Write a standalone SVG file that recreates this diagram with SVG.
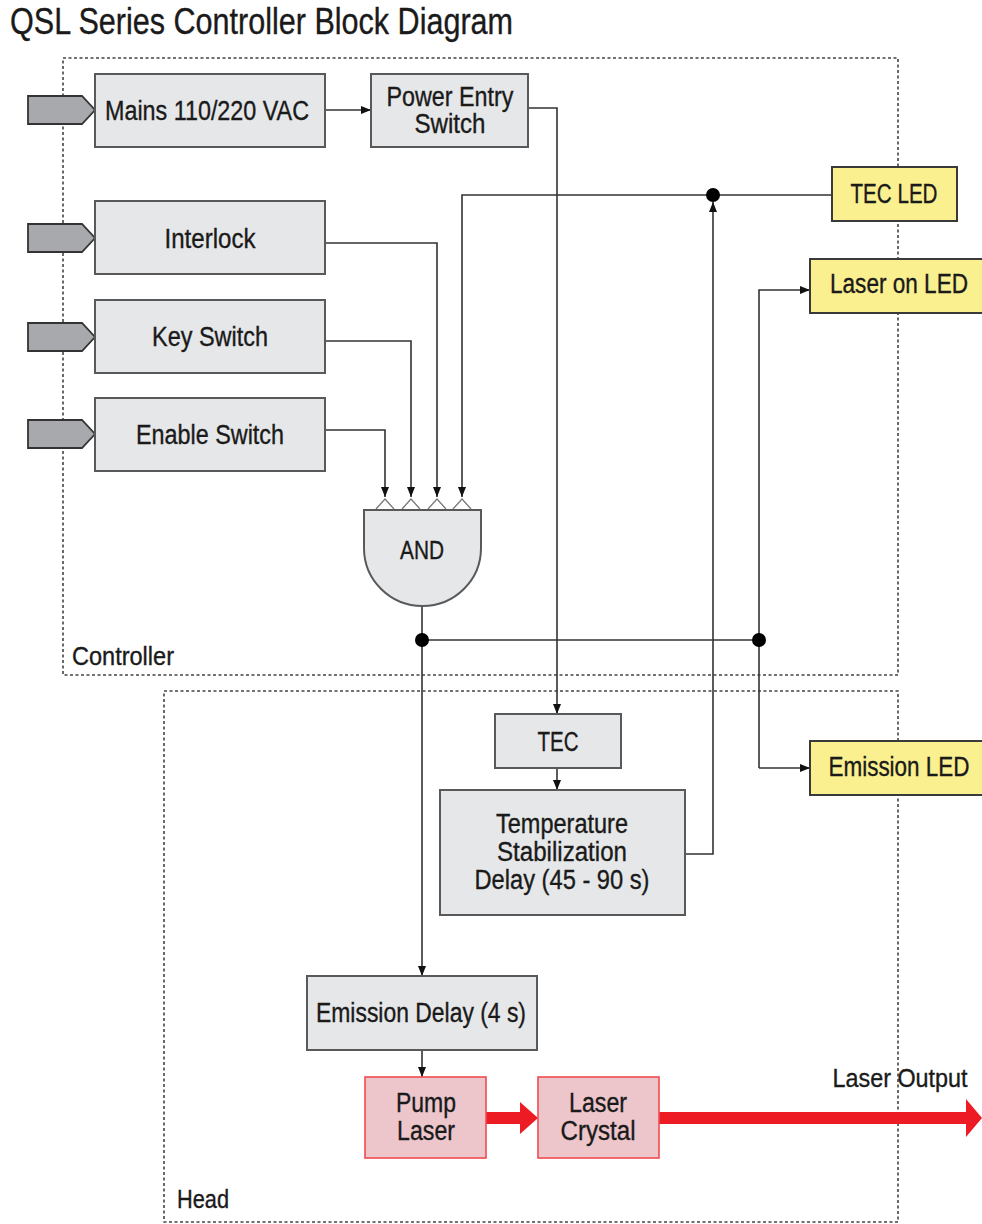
<svg xmlns="http://www.w3.org/2000/svg" width="982" height="1224" viewBox="0 0 982 1224">
<style>
text{font-family:"Liberation Sans",Arial,sans-serif;fill:#1a1a1a;stroke:#1a1a1a;stroke-width:0.35;}
.lbl{font-size:27px;text-anchor:middle;}
.box{fill:#e6e7e8;stroke:#58595b;stroke-width:2;}
.led{fill:#fbf08f;stroke:#3a3a3a;stroke-width:2;}
.red{fill:#ecc6cb;stroke:#ef4b4f;stroke-width:1.6;}
.inp{fill:#a7a9ac;stroke:#333;stroke-width:1.8;}
.dash{fill:none;stroke:#444;stroke-width:1.6;stroke-dasharray:3,2.5;}
.ln{fill:none;stroke:#333;stroke-width:1.6;}
.chev{fill:none;stroke:#777;stroke-width:1.2;}
.dot{fill:#000;}
</style>
<defs>
<marker id="ah" viewBox="0 0 10 8" refX="10" refY="4" markerWidth="10" markerHeight="8" markerUnits="userSpaceOnUse" orient="auto">
<path d="M0,0 L10,4 L0,8 Z" fill="#111"/>
</marker>
</defs>

<text x="10" y="34" style="font-size:36px" textLength="503" lengthAdjust="spacingAndGlyphs">QSL Series Controller Block Diagram</text>

<g id="regions">
<rect class="dash" x="63" y="58" width="835" height="617"/>
<rect class="dash" x="164" y="691" width="734" height="531"/>
<text x="72" y="665" style="font-size:26px" textLength="102" lengthAdjust="spacingAndGlyphs">Controller</text>
<text x="177" y="1208" style="font-size:25px" textLength="52" lengthAdjust="spacingAndGlyphs">Head</text>
</g>

<g id="connectors">
<line class="ln" x1="325" y1="110" x2="371" y2="110" marker-end="url(#ah)"/>
<polyline class="ln" points="528,108 557,108 557,714" marker-end="url(#ah)"/>
<polyline class="ln" points="325,243 437,243 437,497" marker-end="url(#ah)"/>
<polyline class="ln" points="325,341 411,341 411,497" marker-end="url(#ah)"/>
<polyline class="ln" points="325,430 385,430 385,497" marker-end="url(#ah)"/>
<polyline class="ln" points="832,195 462,195 462,497" marker-end="url(#ah)"/>
<polyline class="ln" points="685,854 713,854 713,202" marker-end="url(#ah)"/>
<line class="ln" x1="422" y1="606" x2="422" y2="976" marker-end="url(#ah)"/>
<line class="ln" x1="422" y1="640" x2="759" y2="640"/>
<polyline class="ln" points="759,768 759,290 810,290" marker-end="url(#ah)"/>
<polyline class="ln" points="759,768 810,768" marker-end="url(#ah)"/>
<line class="ln" x1="557" y1="768" x2="557" y2="790" marker-end="url(#ah)"/>
<line class="ln" x1="422" y1="1050" x2="422" y2="1077" marker-end="url(#ah)"/>
<circle class="dot" cx="713" cy="195" r="7"/>
<circle class="dot" cx="422" cy="640" r="7"/>
<circle class="dot" cx="759" cy="640" r="7"/>
<path d="M486,1112 H520 V1102 L538,1118 L520,1134 V1124 H486 Z" fill="#ed1c24"/>
<path d="M659,1112 H966 V1099 L982,1118 L966,1137 V1124 H659 Z" fill="#ed1c24"/>
</g>

<g id="mains">
<polygon class="inp" points="28,96 82,96 95,110 82,124 28,124"/>
<rect class="box" x="95" y="74" width="230" height="73"/>
<text class="lbl" x="207" y="120" textLength="204" lengthAdjust="spacingAndGlyphs">Mains 110/220 VAC</text>
</g>
<g id="power-entry">
<rect class="box" x="371" y="74" width="157" height="73"/>
<text class="lbl" x="450" y="106" textLength="127" lengthAdjust="spacingAndGlyphs">Power Entry</text>
<text class="lbl" x="450" y="133" textLength="71" lengthAdjust="spacingAndGlyphs">Switch</text>
</g>
<g id="interlock">
<polygon class="inp" points="28,224 82,224 95,238 82,252 28,252"/>
<rect class="box" x="95" y="201" width="230" height="73"/>
<text class="lbl" x="210" y="248" textLength="91" lengthAdjust="spacingAndGlyphs">Interlock</text>
</g>
<g id="key-switch">
<polygon class="inp" points="28,323 82,323 95,337 82,351 28,351"/>
<rect class="box" x="95" y="300" width="230" height="73"/>
<text class="lbl" x="210" y="346" textLength="116" lengthAdjust="spacingAndGlyphs">Key Switch</text>
</g>
<g id="enable-switch">
<polygon class="inp" points="28,420 82,420 95,434 82,448 28,448"/>
<rect class="box" x="95" y="398" width="230" height="73"/>
<text class="lbl" x="210" y="444" textLength="148" lengthAdjust="spacingAndGlyphs">Enable Switch</text>
</g>
<g id="and-gate">
<polyline class="chev" points="376,509 385,499 394,509"/>
<polyline class="chev" points="402,509 411,499 420,509"/>
<polyline class="chev" points="428,509 437,499 446,509"/>
<polyline class="chev" points="453,509 462,499 471,509"/>
<path class="box" d="M364,510 H481 V548 A58.5,58 0 0 1 364,548 Z"/>
<text x="422" y="559" style="font-size:25px;text-anchor:middle" textLength="44" lengthAdjust="spacingAndGlyphs">AND</text>
</g>
<g id="tec-led">
<rect class="led" x="832" y="167" width="125" height="54"/>
<text class="lbl" x="894" y="203" textLength="87" lengthAdjust="spacingAndGlyphs">TEC LED</text>
</g>
<g id="laser-on-led">
<rect class="led" x="810" y="259" width="175" height="54"/>
<text class="lbl" x="899" y="293" textLength="138" lengthAdjust="spacingAndGlyphs">Laser on LED</text>
</g>
<g id="emission-led">
<rect class="led" x="810" y="741" width="175" height="54"/>
<text class="lbl" x="899" y="776" textLength="141" lengthAdjust="spacingAndGlyphs">Emission LED</text>
</g>
<g id="tec">
<rect class="box" x="495" y="714" width="126" height="54"/>
<text class="lbl" x="558" y="751" textLength="41" lengthAdjust="spacingAndGlyphs">TEC</text>
</g>
<g id="temp-stab">
<rect class="box" x="440" y="790" width="245" height="125"/>
<text class="lbl" x="562" y="833" textLength="132" lengthAdjust="spacingAndGlyphs">Temperature</text>
<text class="lbl" x="562" y="861" textLength="130" lengthAdjust="spacingAndGlyphs">Stabilization</text>
<text class="lbl" x="562" y="889" textLength="175" lengthAdjust="spacingAndGlyphs">Delay (45 - 90 s)</text>
</g>
<g id="emission-delay">
<rect class="box" x="307" y="976" width="230" height="74"/>
<text class="lbl" x="421" y="1022" textLength="210" lengthAdjust="spacingAndGlyphs">Emission Delay (4 s)</text>
</g>
<g id="pump-laser">
<rect class="red" x="365" y="1077" width="121" height="81"/>
<text class="lbl" x="426" y="1112" textLength="60" lengthAdjust="spacingAndGlyphs">Pump</text>
<text class="lbl" x="426" y="1140" textLength="58" lengthAdjust="spacingAndGlyphs">Laser</text>
</g>
<g id="laser-crystal">
<rect class="red" x="538" y="1077" width="121" height="81"/>
<text class="lbl" x="598" y="1112" textLength="58" lengthAdjust="spacingAndGlyphs">Laser</text>
<text class="lbl" x="598" y="1140" textLength="75" lengthAdjust="spacingAndGlyphs">Crystal</text>
</g>
<text x="900" y="1087" style="font-size:26px;text-anchor:middle" textLength="135" lengthAdjust="spacingAndGlyphs">Laser Output</text>
</svg>
